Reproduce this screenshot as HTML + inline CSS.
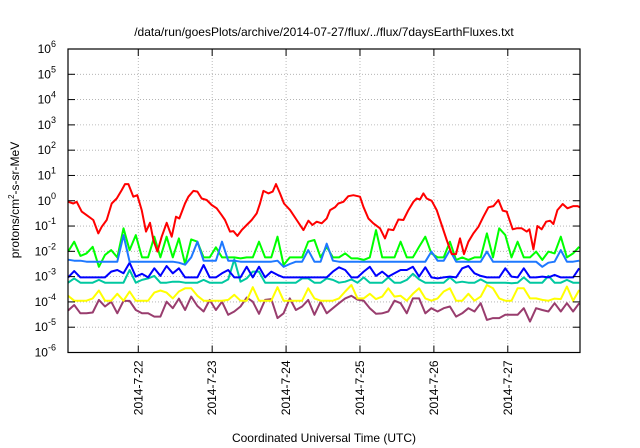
<!DOCTYPE html>
<html><head><meta charset="utf-8"><style>
body{margin:0;background:#fff;}
svg{display:block;font-family:"Liberation Sans",sans-serif;}
</style></head><body>
<svg id="chart" width="640" height="448" viewBox="0 0 640 448" xmlns="http://www.w3.org/2000/svg">
<rect width="640" height="448" fill="#fff"/>
<text x="324" y="36" font-size="12" text-anchor="middle" fill="#000">/data/run/goesPlots/archive/2014-07-27/flux/../flux/7daysEarthFluxes.txt</text>
<g id="grid"></g>
<g id="series"></g>
<g id="axes"></g>
<text x="324" y="442" font-size="12" text-anchor="middle">Coordinated Universal Time (UTC)</text>
<text transform="translate(19,200) rotate(-90)" font-size="12" text-anchor="middle">protons/cm<tspan font-size="8" dy="-5">2</tspan><tspan dy="5">-s-sr-MeV</tspan></text>
</svg>
<script>
const dayLabels = ["2014-7-22","2014-7-23","2014-7-24","2014-7-25","2014-7-26","2014-7-27"];
const dayHours = [24,48,72,96,120,144];
const yExponents = [-6,-5,-4,-3,-2,-1,0,1,2,3,4,5,6];
const redHours = [1.29,2.91,3.99,5.62,7.24,9.41,11.03,12.12,13.74,15.36,16.99,18.61,19.7,20.78,22.4,23.7,25.11,26.51,27.81,28.9,30.2,31.6,33.23,34.85,36.26,37.34,39.18,40.27,41.89,43.19,44.6,46.22,47.84,49.47,51.09,52.18,53.8,54.88,56.18,57.59,59.21,60.84,62.46,63.54,64.63,66.25,67.66,68.74,70.04,71.34,73.29,75.45,77.62,79.24,80.54,81.95,83.57,85.2,86.28,87.89,88.97,90.6,92.22,93.85,96.01,97.1,98.72,100.34,102.51,104.13,105.22,106.84,108.46,110.09,111.71,113.34,114.42,115.5,116.58,117.67,119.29,120.91,122.54,124.16,125.79,127.19,128.49,129.79,131.2,132.82,134.45,136.07,137.7,139.32,140.94,142.35,143.65,145.6,146.9,148.52,150.15,151.01,152.31,153.61,155.02,156.43,157.73,158.81,160.11,161.84,163.36,165.31,166.61,167.47];
const redLog = [-0.04,-0.11,-0.04,-0.43,-0.57,-0.76,-1.29,-1.03,-0.76,-0.11,0.09,0.42,0.66,0.66,0.16,0.22,-0.37,-1.22,-0.87,-1.55,-2.01,-1.42,-0.87,-1.42,-0.63,-0.7,-0.11,0.16,0.39,0.36,0.09,0.03,-0.17,-0.3,-0.57,-0.76,-1.22,-1.2,-1.39,-1.16,-0.96,-0.76,-0.5,-0.11,0.39,0.29,0.36,0.66,0.29,-0.11,-0.37,-0.76,-1.16,-0.79,-0.96,-0.83,-0.89,-0.7,-0.37,-0.26,-0.11,-0.04,0.18,0.22,0.16,-0.24,-0.7,-0.89,-1.09,-1.49,-1.13,-1.16,-0.74,-0.76,-0.37,-0.04,0.09,0.05,0.29,0.09,0,-0.37,-0.96,-1.55,-2.11,-2.11,-1.49,-2.11,-1.62,-1.29,-1.03,-0.63,-0.26,-0.21,0.03,-0.39,-0.43,-1.13,-1.09,-1.09,-1.22,-1.13,-1.92,-1,-1.13,-0.83,-0.79,-0.92,-0.37,-0.13,-0.3,-0.21,-0.21,-0.26];
// common 2-hour sample grid for the other channels: hour = 1.2 + 2*i
const gridStart = 1.2, gridStep = 2;
const greenLog = [-2.01,-1.62,-2.18,-2.08,-1.82,-2.61,-2.14,-1.95,-2.24,-1.09,-1.95,-1.36,-2.24,-2.24,-1.42,-2.24,-1.42,-2.24,-1.49,-2.5,-1.53,-1.62,-2.24,-2.24,-1.84,-2.24,-2.24,-2.24,-2.28,-2.24,-2.24,-1.62,-2.24,-2.24,-1.42,-2.54,-2.24,-2.24,-2.24,-1.62,-1.55,-2.24,-1.82,-2.24,-2.24,-2.08,-2.28,-2.28,-2.34,-2.24,-1.16,-2.24,-2.24,-2.24,-1.62,-2.24,-2.24,-1.82,-1.42,-2.08,-2.24,-2.24,-1.62,-2.34,-2.24,-2.34,-2.24,-2.24,-1.29,-2.24,-1.09,-1.36,-2.24,-1.62,-2.24,-2.24,-2.01,-2.34,-2.01,-2.08,-1.42,-2.24,-2.08,-1.82];
const lightBlueLog = [-2.33,-2.37,-2.37,-2.41,-2.41,-2.41,-2.41,-2.41,-2.41,-1.36,-2.41,-2.41,-2.41,-2.41,-2.41,-2.41,-2.41,-2.41,-2.45,-2.53,-2.24,-1.62,-2.37,-2.37,-2.37,-1.62,-2.37,-2.37,-2.41,-2.41,-2.41,-2.41,-2.41,-2.41,-2.37,-2.61,-2.5,-2.41,-2.41,-1.95,-2.41,-2.41,-1.7,-2.37,-2.41,-2.41,-2.41,-2.41,-2.41,-2.41,-2.41,-2.41,-2.41,-2.41,-2.41,-2.41,-2.41,-2.41,-2.41,-2.01,-2.37,-2.37,-1.95,-2.41,-2.41,-2.41,-2.41,-2.41,-2.01,-2.41,-2.41,-2.41,-2.41,-2.41,-2.41,-2.41,-2.41,-2.61,-2.45,-2.41,-1.95,-2.41,-2.41,-2.37];
const blueLog = [-3.03,-2.78,-3.03,-3.03,-3.03,-3.03,-3.03,-2.8,-2.74,-2.87,-2.45,-3.0,-2.89,-3.03,-2.67,-2.97,-2.58,-2.87,-2.67,-3.03,-3.03,-3.03,-2.54,-3.03,-3.03,-2.87,-2.74,-3.03,-3.03,-2.61,-3.03,-2.61,-3.03,-2.8,-2.93,-3.03,-3.03,-3.03,-3.03,-3.03,-3.03,-3.03,-3.03,-2.8,-2.63,-2.74,-3.03,-3.03,-2.8,-2.61,-2.97,-2.8,-3.0,-2.87,-2.74,-2.74,-2.61,-3.0,-2.63,-3.03,-3.07,-3.03,-3.0,-3.03,-2.67,-2.58,-2.87,-2.97,-3.03,-3.03,-3.03,-2.67,-3.0,-3.03,-2.67,-3.03,-3.03,-3.0,-3.03,-2.93,-3.03,-3.03,-3.03,-2.67];
const tealLog = [-3.24,-3.07,-3.24,-3.24,-3.24,-3.13,-3.24,-3.24,-3.24,-3.24,-2.74,-3.24,-3.13,-3.07,-2.97,-3.24,-3.24,-3.2,-3.2,-3.24,-3.24,-3.24,-3.13,-3.24,-3.24,-3.24,-3.11,-2.32,-3.2,-3.07,-2.8,-2.8,-3.24,-3.24,-3.24,-3.24,-3.24,-3.24,-3.07,-3.07,-3.24,-3.24,-3.07,-3.13,-3.24,-3.2,-3.11,-3.24,-3.03,-3.24,-3.24,-3.24,-3.03,-3.24,-3.24,-3.13,-2.89,-3.11,-3.24,-3.24,-3.24,-3.24,-3.03,-3.24,-3.2,-3.24,-3.24,-3.11,-3.24,-3.24,-3.24,-3.24,-3.26,-3.24,-3.03,-3.24,-3.24,-3.24,-2.97,-3.24,-3.24,-3.13,-3.24,-3.24];
const yellowLog = [-3.76,-3.95,-3.95,-3.95,-3.86,-3.55,-3.95,-3.95,-3.68,-3.95,-3.59,-3.95,-3.95,-3.95,-3.63,-3.55,-3.63,-3.86,-3.59,-3.46,-3.46,-3.76,-3.95,-3.95,-3.95,-3.95,-3.92,-3.72,-3.95,-3.95,-3.42,-3.95,-3.95,-3.95,-3.42,-3.95,-3.95,-3.95,-3.95,-3.46,-3.86,-3.95,-3.95,-3.95,-3.86,-3.59,-3.33,-3.86,-3.86,-3.68,-3.89,-3.79,-3.46,-3.79,-3.76,-3.95,-3.68,-3.46,-3.86,-3.95,-3.86,-3.59,-3.46,-3.95,-3.95,-3.68,-3.95,-3.79,-3.33,-3.46,-3.86,-3.95,-3.95,-3.46,-3.46,-3.86,-3.86,-3.92,-3.95,-3.87,-3.89,-3.39,-3.95,-3.53];
const purpleLog = [-4.34,-4.12,-4.45,-4.45,-4.42,-3.92,-4.18,-3.99,-4.45,-3.96,-3.96,-4.32,-4.45,-4.45,-4.58,-4.58,-3.99,-4.25,-3.87,-4.32,-3.79,-4.16,-4.38,-3.92,-4.32,-3.99,-4.51,-4.38,-4.18,-3.83,-3.99,-4.47,-3.92,-3.89,-4.64,-4.45,-3.86,-4.32,-4.18,-3.92,-4.51,-3.99,-4.45,-4.25,-4.05,-3.86,-3.76,-3.91,-3.95,-4.25,-4.47,-4.45,-4.38,-3.95,-4.05,-4.45,-3.86,-3.86,-4.45,-4.25,-4.38,-4.25,-4.18,-4.58,-4.45,-4.25,-4.38,-4.05,-4.71,-4.64,-4.64,-4.51,-4.51,-4.51,-4.25,-4.78,-4.25,-4.32,-4.38,-4.05,-4.38,-4.05,-4.38,-4.05];

const L=68,R=580,T=49,B=352.5, XMIN=1.18, XMAX=167.45, YMIN=-6, YMAX=6;
const NS="http://www.w3.org/2000/svg";
function xS(h){return L+(h-XMIN)/(XMAX-XMIN)*(R-L);}
function yS(e){return B-(e-YMIN)/(YMAX-YMIN)*(B-T);}
function mk(tag,attrs,parent){const e=document.createElementNS(NS,tag);for(const k in attrs)e.setAttribute(k,attrs[k]);parent.appendChild(e);return e;}
const grid=document.getElementById('grid'), axes=document.getElementById('axes'), ser=document.getElementById('series');
yExponents.forEach(function(ex){
  const y=yS(ex);
  if(ex>YMIN&&ex<YMAX){const g=mk('line',{x1:L,x2:R,y1:y,y2:y,stroke:'#aaa','stroke-width':0.8,'stroke-dasharray':'1,2'},grid);
  
  }
  mk('line',{x1:L,x2:L+7,y1:y,y2:y,stroke:'#000','stroke-width':1},axes);
  mk('line',{x1:R-7,x2:R,y1:y,y2:y,stroke:'#000','stroke-width':1},axes);
  const t=mk('text',{x:56,y:y+4,'font-size':12,'text-anchor':'end'},axes);
  
  
  t.textContent='10';
  const s=mk('tspan',{'font-size':9,dy:-6},t); s.textContent=String(ex);
});
dayHours.forEach(function(h,i){
  const x=xS(h);
  const g=mk('line',{x1:x,x2:x,y1:T,y2:B,stroke:'#aaa','stroke-width':0.8,'stroke-dasharray':'1,2'},grid);
  
  
  mk('line',{x1:x,x2:x,y1:B-7,y2:B,stroke:'#000','stroke-width':1},axes);
  mk('line',{x1:x,x2:x,y1:T,y2:T+7,stroke:'#000','stroke-width':1},axes);
  const t=mk('text',{transform:'translate('+(x+4)+','+(B+8)+') rotate(-90)','font-size':12,'text-anchor':'end'},axes);
  
  
  t.textContent=dayLabels[i];
});
const frame=mk('rect',{x:L,y:T,width:R-L,height:B-T,fill:'none',stroke:'#000','stroke-width':1.2},axes);


function gridHours(n){const a=[];for(let i=0;i<n;i++)a.push(gridStart+gridStep*i);return a;}
function draw(hours,vals,color,name){
  const pts=vals.map(function(v,i){return xS(hours[i]).toFixed(1)+','+yS(v).toFixed(1);}).join(' ');
  const p=mk('polyline',{points:pts,fill:'none',stroke:color,'stroke-width':2,'stroke-linejoin':'round'},ser);
  
  
}
draw(gridHours(purpleLog.length),purpleLog,'#993d6e','series-purple');
draw(gridHours(yellowLog.length),yellowLog,'#ffff00','series-yellow');
draw(gridHours(tealLog.length),tealLog,'#00c8a0','series-teal');
draw(gridHours(blueLog.length),blueLog,'#0000ff','series-blue');
draw(gridHours(greenLog.length),greenLog,'#00ff00','series-green');
draw(gridHours(lightBlueLog.length),lightBlueLog,'#1e78ff','series-light-blue');
draw(redHours,redLog,'#ff0000','series-red');
</script>
</body></html>
